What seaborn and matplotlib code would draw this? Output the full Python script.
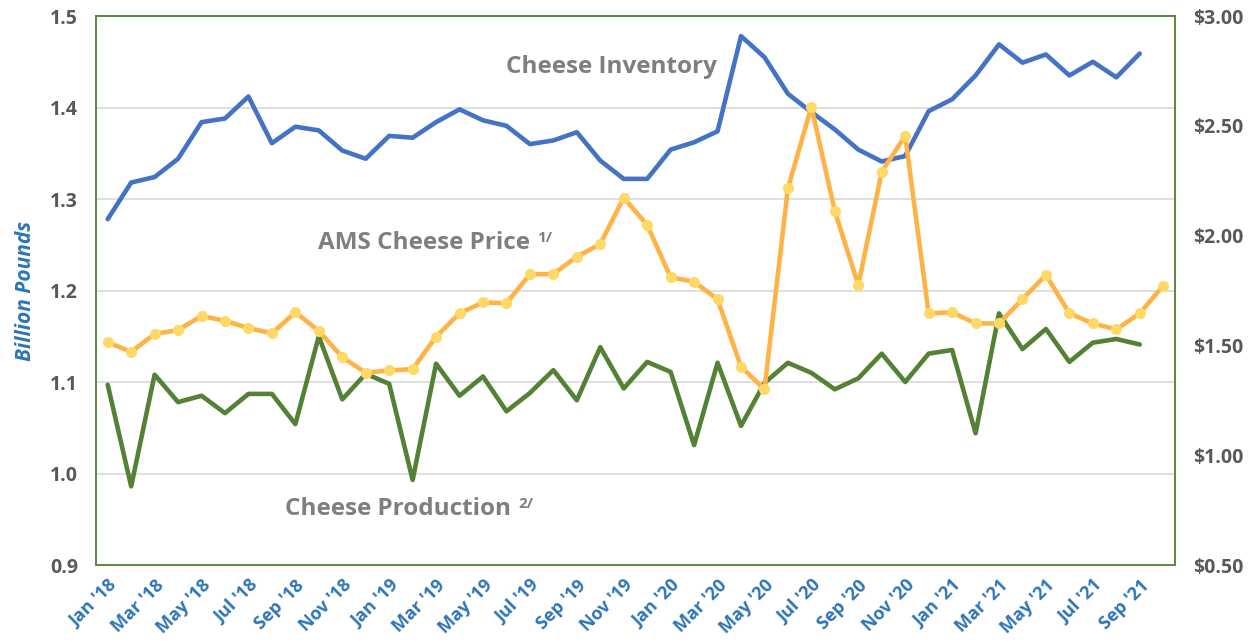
import numpy as np
import pandas as pd
import matplotlib
matplotlib.use("Agg")
import matplotlib.pyplot as plt
import seaborn as sns

months = ["Jan", "Feb", "Mar", "Apr", "May", "Jun", "Jul", "Aug", "Sep", "Oct", "Nov", "Dec"]
labels = [f"{m} '{y}" for y in range(18, 22) for m in months][:46]

# billion pounds, Jan '18 - Sep '21
inventory = [1.278, 1.318, 1.324, 1.344, 1.384, 1.388, 1.412, 1.361, 1.379, 1.375,
             1.353, 1.344, 1.369, 1.367, 1.384, 1.398, 1.386, 1.380, 1.360, 1.364,
             1.373, 1.342, 1.322, 1.322, 1.354, 1.362, 1.374, 1.478, 1.455, 1.415,
             1.395, 1.376, 1.354, 1.341, 1.347, 1.396, 1.409, 1.435, 1.469, 1.449,
             1.458, 1.435, 1.450, 1.433, 1.459]
production = [1.097, 0.986, 1.108, 1.078, 1.085, 1.066, 1.087, 1.087, 1.054, 1.150,
              1.081, 1.109, 1.098, 0.993, 1.120, 1.085, 1.106, 1.068, 1.088, 1.113,
              1.080, 1.138, 1.093, 1.122, 1.111, 1.031, 1.121, 1.052, 1.099, 1.121,
              1.110, 1.092, 1.104, 1.131, 1.100, 1.131, 1.135, 1.044, 1.175, 1.136,
              1.158, 1.122, 1.143, 1.147, 1.141]
# $/lb, Jan '18 - Oct '21
price = [1.514, 1.471, 1.552, 1.570, 1.634, 1.612, 1.579, 1.555, 1.651, 1.566,
         1.446, 1.376, 1.386, 1.392, 1.540, 1.646, 1.696, 1.692, 1.824, 1.825,
         1.904, 1.962, 2.173, 2.048, 1.810, 1.790, 1.710, 1.403, 1.300, 2.215,
         2.587, 2.111, 1.775, 2.291, 2.454, 1.646, 1.651, 1.600, 1.600, 1.711,
         1.821, 1.646, 1.600, 1.573, 1.646, 1.772]

left_ticks = [0.9, 1.0, 1.1, 1.2, 1.3, 1.4, 1.5]
right_ticks = [0.5, 1.0, 1.5, 2.0, 2.5, 3.0]

df_left = pd.DataFrame({"idx": range(len(inventory)), "inventory": inventory, "production": production})
df_price = pd.DataFrame({"idx": range(len(price)), "price": price})

sns.set_theme(style="white")
plt.rcParams["font.family"] = ["Open Sans", "DejaVu Sans"]

GRAY = "#595959"
ANN = "#7f7f7f"
BLUE_TXT = "#2e75b6"
SPINE = "#5b8a3a"

fig = plt.figure(figsize=(12.53, 6.43), dpi=100)
ax = fig.add_axes([0.0766, 0.1213, 0.8611, 0.8538])
ax2 = ax.twinx()

sns.lineplot(data=df_left, x="idx", y="production", ax=ax, color="#548235", linewidth=3.3, zorder=3)
sns.lineplot(data=df_left, x="idx", y="inventory", ax=ax, color="#4472c4", linewidth=3.3, zorder=3)
sns.lineplot(data=df_price, x="idx", y="price", ax=ax2, color="#ffb347", linewidth=3.3,
             marker="o", markersize=8, markerfacecolor="#ffd966", markeredgewidth=0, zorder=4)

n = 46
for a in (ax, ax2):
    a.set_xlim(-0.5, n - 0.5)
    a.set_xlabel("")

ax.set_ylim(0.9, 1.5)
ax.set_yticks(left_ticks)
ax.set_yticklabels([f"{v:.1f}" for v in left_ticks], fontsize=14, fontweight="bold", color=GRAY)
ax.yaxis.grid(True, color="#d9d9d9", linewidth=1.2)
ax.set_axisbelow(True)
ax.set_ylabel("Billion Pounds", fontsize=15, fontweight="bold", fontstyle="italic",
              color=BLUE_TXT, labelpad=10)

ax2.set_ylim(0.5, 3.0)
ax2.set_yticks(right_ticks)
ax2.set_yticklabels([f"${v:.2f}" for v in right_ticks], fontsize=14, fontweight="bold", color=GRAY)
ax2.set_ylabel("")
ax2.grid(False)

ax.set_xticks(np.arange(0, n, 2))
ax.set_xticklabels(labels[::2], rotation=45, ha="right", rotation_mode="anchor",
                   fontsize=13, fontweight="bold", color=BLUE_TXT)
ax.set_xticks(np.arange(-0.5, n, 1), minor=True)
ax.tick_params(axis="x", which="major", length=0, pad=8)
ax.tick_params(axis="x", which="minor", direction="in", length=5, color=SPINE, width=1.2)
ax.tick_params(axis="y", length=0, pad=13)
ax2.tick_params(axis="y", length=0, pad=13)
ax2.tick_params(axis="x", length=0)

for a in (ax, ax2):
    for s in a.spines.values():
        s.set_color(SPINE)
        s.set_linewidth(1.2)
        s.set_visible(True)

notes = [
    (17.0, 1.444, "Cheese Inventory", None),
    (8.97, 1.252, "AMS Cheese Price", "1/"),
    (7.56, 0.961, "Cheese Production", "2/"),
]
fig.canvas.draw()
renderer = fig.canvas.get_renderer()
for x, y, txt, sup in notes:
    t = ax.text(x, y, txt, fontsize=17.5, fontweight="bold", color=ANN, va="center", ha="left")
    if sup:
        bb = t.get_window_extent(renderer=renderer)
        ax.annotate(sup, xy=(bb.x1, bb.y1), xycoords="figure pixels", xytext=(5, 0),
                    textcoords="offset points", fontsize=11, fontweight="bold",
                    color=ANN, va="top", ha="left")

fig.savefig("out.png", dpi=100)
